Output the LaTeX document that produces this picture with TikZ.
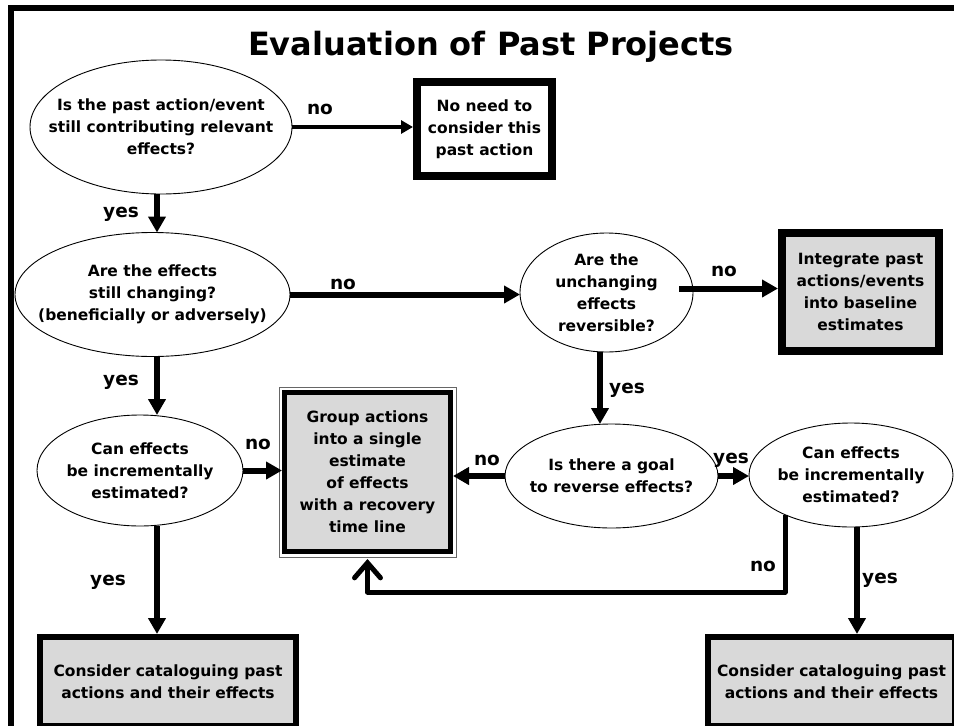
\documentclass[tikz,border=0pt]{standalone}
\usepackage{fontspec}
\setmainfont{DejaVu Sans}
\usetikzlibrary{shapes.geometric,arrows.meta,calc}
\newcommand{\txtfont}{\fontsize{15.5}{22}\selectfont\bfseries}
\newcommand{\lblfont}{\fontsize{18.5}{20}\selectfont\bfseries}
\begin{document}
\begin{tikzpicture}[x=1pt,y=-1pt,
  q/.style={ellipse, draw, line width=0.9pt, inner sep=0pt, outer sep=0pt},
  qt/.style={align=center, font=\txtfont, inner sep=0pt},
  bx/.style={rectangle, draw, line width=#1, inner sep=0pt, align=center, font=\txtfont},
  lbl/.style={font=\lblfont, inner sep=0pt},
  arr/.style={line width=6pt, -{Triangle[length=16pt,width=17pt]}},
  arrthin/.style={line width=4pt, -{Triangle[length=12pt,width=13pt]}},
  barb/.style={line width=5pt, line join=round, -{Straight Barb[length=15pt,width=26pt,line cap=round]}}]
\useasboundingbox (0,0) rectangle (954,726);
\fill[white] (0,0) rectangle (954,726);
% frame
\draw[line width=6pt] (10.5,726) -- (10.5,8) -- (954,8);
% title
\node[font=\fontsize{32}{36}\selectfont\bfseries, anchor=base] (title) at (491,55) {Evaluation of Past Projects};
% nodes
\node[q, minimum width=262pt, minimum height=134pt,
  label={[qt]center:{Is the past action/event\\still contributing relevant\\effects?}}] (e1) at (161,127) {};
\node[bx=8pt, minimum width=135pt, minimum height=94pt, fill=white] (b1) at (484.5,129) {No need to\\consider this\\past action};
\node[q, minimum width=275pt, minimum height=124pt,
  label={[qt]center:{Are the effects\\still changing?\\(beneficially or adversely)}}] (e2) at (152.5,294.5) {};
\node[q, minimum width=173pt, minimum height=119pt,
  label={[qt]center:{Are the\\unchanging\\effects\\reversible?}}] (e3) at (606.5,292.5) {};
\node[bx=8pt, minimum width=157pt, minimum height=118pt, fill=black!15] (b2) at (860.5,292) {Integrate past\\actions/events\\into baseline\\estimates};
\node[q, minimum width=213pt, minimum height=104pt,
  label={[qt]center:{Is there a goal\\to reverse effects?}}] (e4) at (611.5,476) {};
\node[q, minimum width=204pt, minimum height=104pt,
  label={[qt]center:{Can effects\\be incrementally\\estimated?}}] (e5) at (851,475) {};
\node[q, minimum width=206pt, minimum height=111pt,
  label={[qt]center:{Can effects\\be incrementally\\estimated?}}] (e6) at (140,470.5) {};
\node[bx=5pt, minimum width=166pt, minimum height=159pt, fill=black!15] (g) at (367.5,472) {Group actions\\into a single\\estimate\\of effects\\with a recovery\\time line};
\draw[black!60, line width=0.8pt] ([shift={(-3pt,3pt)}]g.north west) rectangle ([shift={(3pt,-3pt)}]g.south east);
\node[bx=6pt, minimum width=256pt, minimum height=89pt, fill=black!15] (b3) at (168,681.5) {Consider cataloguing past\\actions and their effects};
\node[bx=6pt, minimum width=247pt, minimum height=89pt, fill=black!15] (b4) at (831.5,681.5) {Consider cataloguing past\\actions and their effects};
% connectors
\draw[arrthin] (e1.east) -- (e1.east -| b1.west);
\draw[arr] ([xshift=-4pt]e1.south) -- ([xshift=4.5pt]e2.north);
\draw[arr] (e2.east) -- (e2.east -| e3.west);
\coordinate (s4) at ([xshift=-14pt,yshift=4pt]e3.east);
\draw[arr] (s4) -- (s4 -| b2.west);
\draw[arr] ([xshift=-6.5pt]e3.south) -- ([xshift=-11.5pt]e4.north);
\draw[arr] (e4.east) -- (e4.east -| e5.west);
\draw[arr] (e4.west) -- (e4.west -| g.east);
\draw[arr] (e6.east) -- (e6.east -| g.west);
\draw[arr] ([xshift=4.5pt]e2.south) -- ([xshift=17pt]e6.north);
\draw[arr] ([xshift=17pt]e6.south) -- ([xshift=-11pt]b3.north);
\draw[arr] ([xshift=6pt]e5.south) -- ([xshift=25.5pt]b4.north);
\coordinate (c1) at (785,592);
\draw[barb, shorten >=5pt] (e5.211) |- (c1) -| (g.south);
% labels
\node[lbl] (l1) at (320,109) {no};
\node[lbl] (l2) at (121,214) {yes};
\node[lbl] (l3) at (343,284) {no};
\node[lbl] (l4) at (724,271) {no};
\node[lbl] (l5) at (627,390) {yes};
\node[lbl] (l6) at (731,460) {yes};
\node[lbl] (l7) at (487,460) {no};
\node[lbl] (l8) at (258,444) {no};
\node[lbl] (l9) at (121,382) {yes};
\node[lbl] (l10) at (108,582) {yes};
\node[lbl] (l11) at (763,566) {no};
\node[lbl] (l12) at (880,580) {yes};
\end{tikzpicture}
\end{document}
